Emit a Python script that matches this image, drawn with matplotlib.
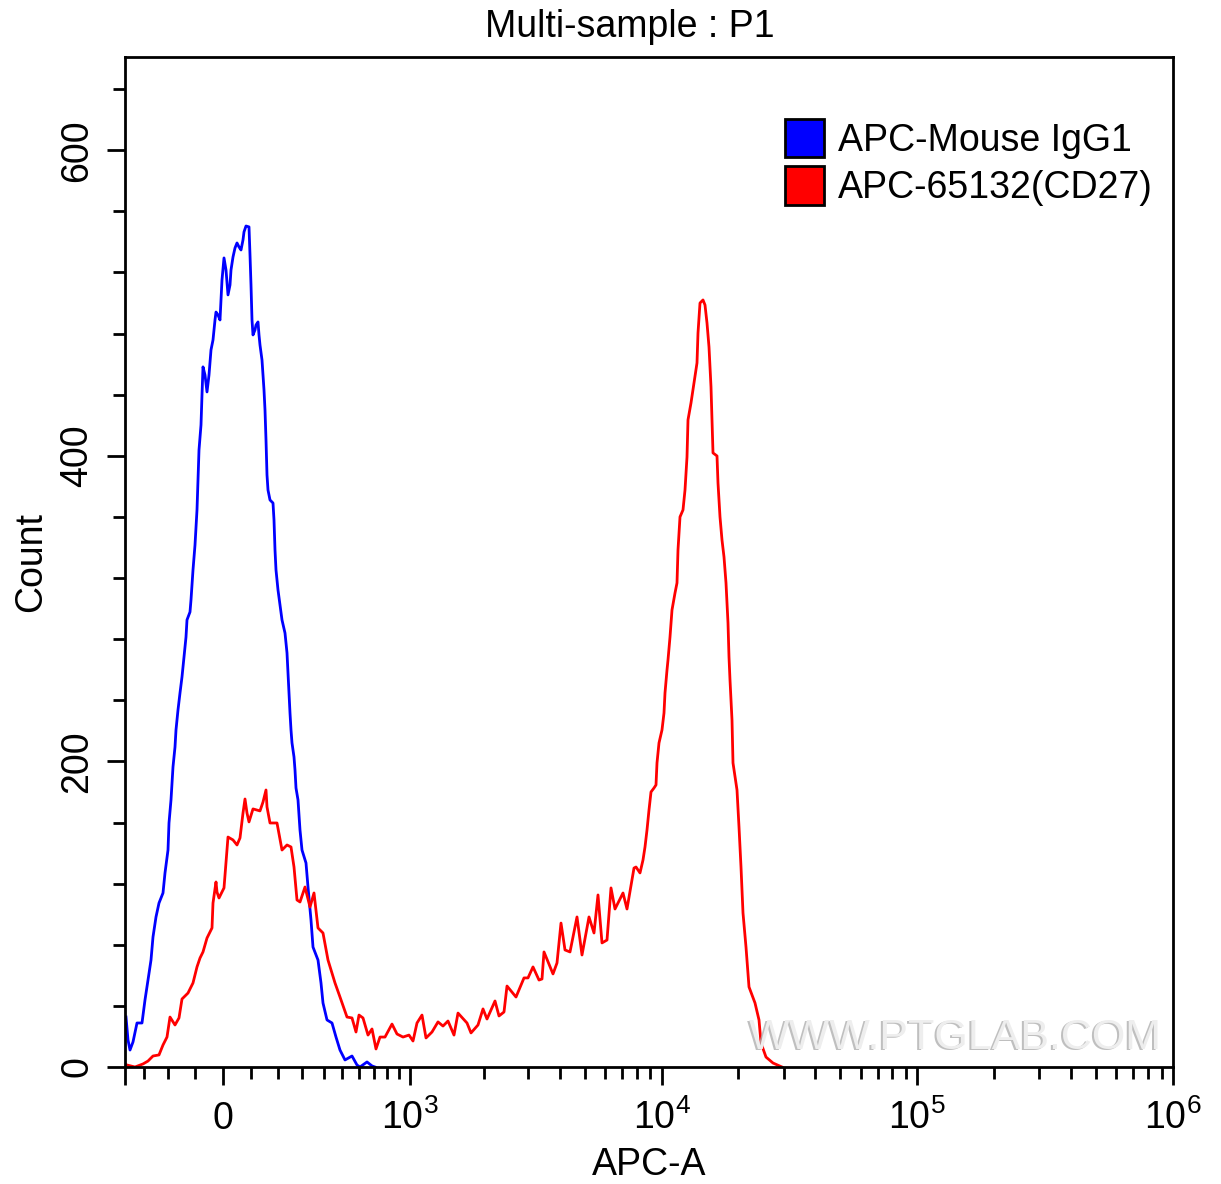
import matplotlib
matplotlib.use("Agg")
import matplotlib.pyplot as plt
from matplotlib.patches import Patch

plt.rcParams["font.family"] = ["Liberation Sans", "DejaVu Sans"]
plt.rcParams["mathtext.fontset"] = "custom"
plt.rcParams["mathtext.rm"] = "Liberation Sans"
plt.rcParams["mathtext.default"] = "regular"

# x values are display channels of the biexponential axis
BLUE_CHANNEL = [
    1, 3, 5, 8, 12, 17, 20, 23, 26, 28, 31, 34, 38, 40, 43, 44, 46, 48, 50, 51, 53, 55, 57, 59, 61, 62,
    65, 66, 68, 70, 72, 73, 74, 76, 77, 78, 80, 82, 84, 86, 88, 90, 91, 93, 95, 96, 97, 99, 101, 103,
    105, 106, 108, 110, 112, 114, 116, 118, 119, 121, 124, 125, 126, 127, 128, 130, 131, 133, 134, 135,
    137, 138, 139, 140, 141, 142, 143, 145, 148, 149, 150, 151, 153, 155, 157, 160, 162, 163, 164, 165,
    166, 167, 169, 170, 171, 173, 175, 177, 181, 183, 186, 188, 193, 196, 198, 202, 207, 211, 215, 220,
    227, 232, 235, 242, 247, 250,
]
BLUE_COUNT = [
    32.7, 17.7, 11.1, 16.4, 28.8, 28.8, 43.9, 56.9, 70, 85.1, 98.2, 107.3, 113.9, 127, 142, 159.7, 174.8,
    196.4, 209.4, 220.6, 233.7, 244.8, 255.3, 268.3, 281.4, 292.6, 297.8, 305.7, 325.3, 341.6, 364.6,
    384.2, 403.8, 420.2, 439.8, 458.2, 452.9, 441.8, 452.9, 469.3, 475.8, 488.9, 494.1, 492.2, 488.9,
    502, 515.1, 529.5, 521.6, 505.3, 511.8, 521.6, 530.1, 536, 539.3, 536.7, 534.7, 541.3, 546.5, 550.4,
    549.8, 531.5, 511.8, 488.9, 479.1, 482.4, 485.6, 487.6, 479.1, 472.5, 462.7, 452.9, 443.1, 430,
    410.4, 387.5, 377.6, 371.1, 369.1, 358, 338.4, 325.3, 312.2, 302.4, 292.6, 284, 271, 257.9, 244.8,
    231.7, 220.6, 212.1, 202.9, 194.4, 182.6, 174.8, 155.1, 142, 133.5, 117.8, 96.2, 78.5, 70, 55, 41.9,
    30.8, 28.8, 19.6, 11.1, 4.6, 7.2, 1.3, 0, 3.3, 0.7, 0,
]
RED_CHANNEL = [
    2, 10, 18, 23, 28, 34, 38, 42, 45, 50, 54, 57, 63, 68, 72, 75, 78, 82, 87, 88, 91, 92, 94, 99, 101,
    103, 108, 112, 115, 118, 120, 122, 124, 128, 135, 138, 141, 142, 145, 152, 157, 162, 166, 169, 172,
    175, 180, 185, 189, 193, 198, 203, 210, 215, 222, 227, 231, 234, 238, 243, 247, 251, 255, 260, 267,
    272, 278, 284, 288, 292, 297, 301, 307, 313, 318, 323, 329, 333, 342, 346, 353, 358, 362, 370, 374,
    379, 382, 391, 399, 403, 408, 414, 417, 419, 428, 432, 436, 440, 445, 452, 457, 464, 469, 473, 477,
    482, 486, 490, 498, 502, 509, 511, 515, 518, 520, 522, 524, 526, 529, 531, 532, 534, 537, 539, 540,
    542, 543, 545, 547, 550, 552, 553, 555, 558, 560, 562, 563, 566, 569, 572, 573, 575, 578, 580, 582,
    584, 586, 587, 588, 592, 593, 595, 597, 599, 601, 603, 604, 605, 607, 608, 612, 614, 616, 618, 621,
    624, 630, 634, 636, 641, 648, 657,
]
RED_COUNT = [
    1.3, 0, 2, 3.9, 7.2, 7.9, 14.4, 19.6, 32.7, 27.5, 32.1, 44.5, 48.4, 55, 65.5, 71.3, 75.3, 84.4, 91,
    107.3, 121.1, 114.5, 110.6, 117.2, 133.5, 150.5, 148.6, 145.3, 149.9, 166.2, 175.4, 166.2, 160.4,
    168.9, 167.6, 173.4, 181.3, 170.2, 159.7, 159.7, 142, 145.3, 144, 130.9, 109.3, 108, 117.8, 104.7,
    113.9, 91, 87.7, 70, 55, 45.8, 32.7, 32.1, 22.9, 34, 32.1, 20.9, 24.9, 11.8, 19.6, 19.6, 28.1, 21.6,
    19.6, 20.9, 17, 28.8, 34, 19, 22.9, 29.5, 26.8, 30.1, 20.9, 35.3, 28.8, 22.3, 27.5, 38, 31.4, 43.2,
    33.4, 36, 53, 45.8, 58.3, 58.3, 65.5, 56.9, 57.6, 75.3, 60.9, 68.1, 94.2, 76.6, 75.3, 98.2, 73.3,
    98.2, 87.7, 112.6, 81.2, 83.1, 117.2, 103.4, 113.9, 103.4, 130.2, 130.9, 127, 135.5, 144, 155.1,
    168.2, 180, 182.6, 184.6, 199, 212.1, 220.6, 231.7, 244.8, 259.8, 266.4, 281.4, 299.1, 310.2, 316.8,
    338.4, 360, 364.6, 377.6, 399.2, 423.5, 434.6, 447.7, 460.8, 480.4, 500, 502, 498.7, 486.9, 471.2,
    445.1, 423.5, 401.9, 399.9, 382.2, 360, 344.9, 333.8, 316.8, 290.6, 268.3, 253.3, 227.1, 199, 181.3,
    157.1, 130.9, 100.8, 78.5, 52.4, 41.9, 30.8, 15.7, 6.5, 2.6, 0,
]

X_MAJOR = [0, 98, 285, 537, 792, 1048]
X_MAJOR_LABELS = ["", "0", "$10^{3}$", "$10^{4}$", "$10^{5}$", "$10^{6}$"]
X_MINOR = [
    19, 43, 70, 126, 153, 177, 199, 217, 234, 249, 262, 274, 359, 403, 435, 460, 480, 497, 512, 525,
    613, 659, 690, 715, 736, 753, 767, 781, 869, 914, 946, 971, 991, 1008, 1023, 1037,
]
Y_MAJOR = [0, 200, 400, 600]
Y_MINOR = [40, 80, 120, 160, 240, 280, 320, 360, 440, 480, 520, 560, 640]
LEGEND_LABELS = ["APC-Mouse IgG1", "APC-65132(CD27)"]

W, H = 1221, 1184
FONT = 27


def main():
    fig = plt.figure(figsize=(W / 100, H / 100), dpi=100)
    ax = fig.add_axes([125 / W, (H - 1067) / H, 1048 / W, 1010 / H])

    # watermark sits under the curves, drawn twice for the embossed look
    fig.text(747 / W, (H - 1050) / H, "WWW.PTGLAB.COM", fontsize=31, color="#b0b0b0", alpha=0.8, ha="left", va="baseline")
    fig.text(749 / W, (H - 1049) / H, "WWW.PTGLAB.COM", fontsize=31, color="#eeeeee", ha="left", va="baseline")
    ax.patch.set_alpha(0)

    ax.plot(BLUE_CHANNEL, BLUE_COUNT, color="#0000ff", linewidth=2.0)
    ax.plot(RED_CHANNEL, RED_COUNT, color="#ff0000", linewidth=2.0)

    ax.set_xlim(0, 1048)
    ax.set_ylim(0, 661)
    ax.set_xticks(X_MAJOR, X_MAJOR_LABELS, fontsize=FONT)
    ax.set_xticks(X_MINOR, minor=True)
    ax.set_yticks(Y_MAJOR, [str(v) for v in Y_MAJOR], fontsize=FONT, rotation=90, va="center")
    ax.set_yticks(Y_MINOR, minor=True)
    ax.tick_params(which="major", length=13, width=2.0)
    ax.tick_params(which="minor", length=8.5, width=2.0)
    ax.tick_params(axis="y", which="major", pad=8.5)
    # baseline alignment keeps "0" level with the powers of ten
    ax.tick_params(axis="x", which="major", pad=31.5)
    for label in ax.get_xticklabels():
        label.set_va("baseline")
    for spine in ax.spines.values():
        spine.set_linewidth(2.0)

    ax.set_xlabel("APC-A", fontsize=FONT)
    ax.xaxis.set_label_coords(0.5, -80 / 1010)
    ax.set_ylabel("Count", fontsize=FONT)
    ax.yaxis.set_label_coords(-76 / 1048, 0.5)
    fig.text(630 / W, (H - 27) / H, "Multi-sample : P1", fontsize=FONT, ha="center", va="center")

    handles = [
        Patch(facecolor="#0000ff", edgecolor="black", linewidth=2),
        Patch(facecolor="#ff0000", edgecolor="black", linewidth=2),
    ]
    ax.legend(
        handles,
        LEGEND_LABELS,
        loc="upper left",
        bbox_to_anchor=((785 - 125) / 1048, (1067 - 119) / 1010),
        frameon=False,
        fontsize=FONT,
        borderaxespad=0,
        borderpad=0,
        handlelength=1.04,
        handleheight=1.2,
        handletextpad=0.37,
        labelspacing=0.2,
    )

    fig.savefig("out.png", dpi=100)
    plt.close(fig)


if __name__ == "__main__":
    main()
